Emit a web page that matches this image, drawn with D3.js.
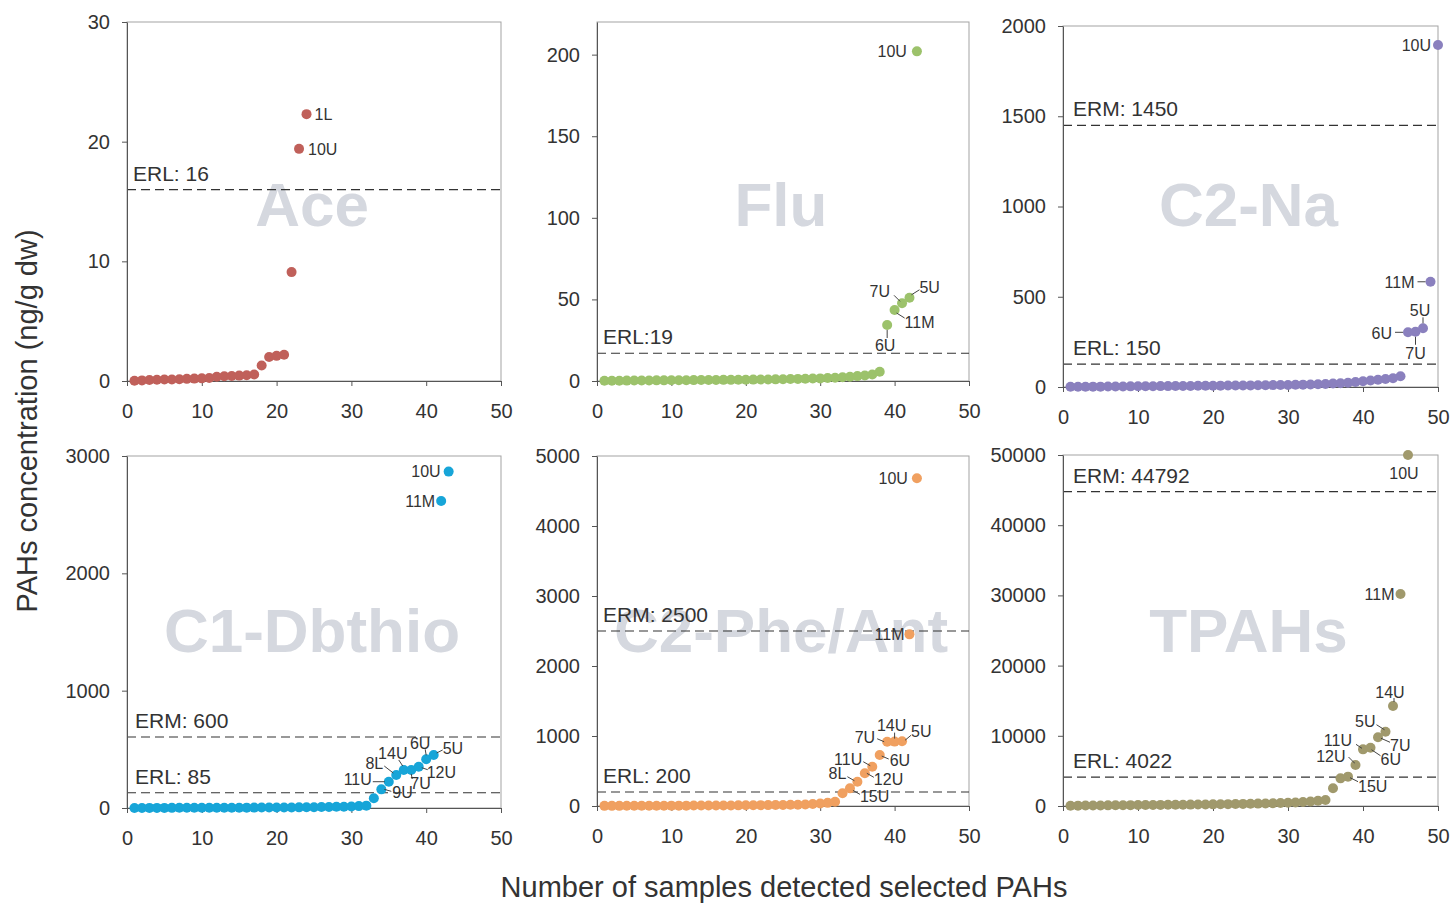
<!DOCTYPE html>
<html lang="en">
<head>
<meta charset="UTF-8">
<title>PAHs concentration</title>
<script src="https://d3js.org/d3.v7.min.js"></script>
<style>
  body { margin: 0; background: #fff; }
  text { font-family: "Liberation Sans", Arial, sans-serif; }
</style>
</head>
<body>
<div id="chart"></div>
<script>
// ---- data ----
const panelNames = ["Ace", "Flu", "C2-Na", "C1-Dbthio", "C2-Phe/Ant", "TPAHs"]
const xTicks = [0, 10, 20, 30, 40, 50]
const yMaxes = [30, 220, 2000, 3000, 5000, 50000]
const yTickValues = [
    [0, 10, 20, 30],
    [0, 50, 100, 150, 200],
    [0, 500, 1000, 1500, 2000],
    [0, 1000, 2000, 3000],
    [0, 1000, 2000, 3000, 4000, 5000],
    [0, 10000, 20000, 30000, 40000, 50000]
]

// concentrations, sorted, sample n = index + 1
const aceValues = [0.02, 0.05, 0.08, 0.1, 0.12, 0.13, 0.15, 0.18, 0.2, 0.22, 0.25, 0.35, 0.4, 0.42, 0.45, 0.48,
    0.55, 1.3, 2.0, 2.1, 2.2, 9.1, 19.4, 22.3]
const fluValues = [0.1, 0.15, 0.2, 0.25, 0.3, 0.3, 0.35, 0.4, 0.4, 0.45, 0.5, 0.5, 0.55, 0.6, 0.6, 0.65, 0.7, 0.7,
    0.75, 0.8, 0.85, 0.9, 0.95, 1.0, 1.1, 1.2, 1.3, 1.4, 1.5, 1.6, 1.8, 2.0, 2.3, 2.6, 3.0, 3.4, 4.0, 5.7,
    34.3, 43.5, 47.6, 51, 202]
const c2naValues = [1, 1, 1.5, 2, 2, 2.5, 3, 3, 3.5, 4, 4, 4.5, 5, 5, 5.5, 6, 6, 6.5, 7, 7,
    7.5, 8, 8, 8.5, 9, 9.5, 10, 10.5, 11, 11.5, 12, 13, 14, 15, 17, 19, 21, 24,
    28, 32, 36, 40, 44, 48, 60, 303, 306, 325, 583, 1895]
const c1dbValues = [0.5, 0.5, 0.8, 1, 1, 1.2, 1.5, 1.5, 1.8, 2, 2, 2.2, 2.5, 2.5, 2.8, 3, 3.2, 3.5, 3.8, 4,
    4.5, 5, 5.5, 6, 7, 8, 9, 10, 11, 13, 16, 20,
    83, 159, 224, 281, 324, 324, 352, 415, 452, 2617, 2867]
const c2pheValues = [2, 2, 2, 3, 3, 3, 4, 4, 4, 5, 5, 5, 6, 6, 7, 7, 8, 8, 9, 10, 11, 12, 13, 14, 15, 17, 19, 22,
    28, 35, 45, 61, 181, 252, 347, 467, 561, 728, 918, 920, 925, 2452, 4681]
const tpahValues = [40, 50, 60, 70, 80, 90, 100, 110, 120, 130, 140, 150, 160, 170, 180, 190, 200, 210, 220, 235,
    250, 265, 280, 300, 320, 340, 360, 390, 420, 460, 500, 560, 640, 740, 855,
    2520, 3940, 4180, 5840, 8070, 8300, 9790, 10580, 14240, 30200, 50000]
const allValues = [aceValues, fluValues, c2naValues, c1dbValues, c2pheValues, tpahValues]

// guideline captions and the level at which each dashed line is drawn
const guideTexts = [["ERL: 16"], ["ERL:19"], ["ERM: 1450", "ERL: 150"], ["ERM: 600", "ERL: 85"],
    ["ERM: 2500", "ERL: 200"], ["ERM: 44792", "ERL: 4022"]]
const guideLevels = [[16], [17], [1450, 127], [605, 130], [2500, 200], [44792, 4100]]

// [sample number, station]
const aceLabels = [[23, "10U"], [24, "1L"]]
const fluLabels = [[39, "6U"], [40, "11M"], [41, "7U"], [42, "5U"], [43, "10U"]]
const c2naLabels = [[46, "6U"], [47, "7U"], [48, "5U"], [49, "11M"], [50, "10U"]]
const c1dbLabels = [[34, "9U"], [35, "11U"], [36, "8L"], [37, "14U"], [38, "7U"], [39, "12U"], [40, "6U"],
    [41, "5U"], [42, "11M"], [43, "10U"]]
const c2pheLabels = [[34, "15U"], [35, "8L"], [36, "12U"], [37, "11U"], [38, "6U"], [39, "7U"], [40, "14U"],
    [41, "5U"], [42, "11M"], [43, "10U"]]
const tpahLabels = [[38, "15U"], [39, "12U"], [40, "11U"], [41, "6U"], [42, "7U"], [43, "5U"], [44, "14U"],
    [45, "11M"], [46, "10U"]]
const allLabels = [aceLabels, fluLabels, c2naLabels, c1dbLabels, c2pheLabels, tpahLabels]

// ---- layout ----
const width = 1454
const height = 903
const boxes = [
    {l: 127, r: 501, t: 22, b: 381},
    {l: 597, r: 969, t: 22, b: 381},
    {l: 1063, r: 1438, t: 26, b: 387},
    {l: 127, r: 501, t: 456, b: 808},
    {l: 597, r: 969, t: 456, b: 806},
    {l: 1063, r: 1438, t: 455, b: 806}
]
const dotColors = ["#c0605a", "#9cc26b", "#8a80be", "#17a5d8", "#f0a060", "#a0996c"]
const guideInset = [6, 6, 10, 8, 6, 10]

// label offsets from the dot: dx, dy, anchor, leader [x1,y1,x2,y2]
const placements = [
    {"10U": [9, 0, "start"], "1L": [8, 0, "start"]},
    {"6U": [-2, 20, "middle", [0, 5, 0, 13]], "11M": [10, 12, "start", [2, 3, 10, 8]],
     "7U": [-12, -12, "end", [-8, -8, -2, -2]], "5U": [10, -11, "start", [2, -3, 10, -8]],
     "10U": [-10, 0, "end"]},
    {"6U": [-16, 1, "end", [-13, 0, -5, 0]], "7U": [0, 21, "middle", [0, 5, 0, 13]],
     "5U": [-3, -18, "middle", [0, -11, 0, -5]], "11M": [-16, 0, "end", [-13, 0, -5, 0]],
     "10U": [-7, 0, "end"]},
    {"9U": [11, 3, "start", [3, 0, 10, 2]], "11U": [-17, -2, "end", [-16, 0, -4, 0]],
     "8L": [-13, -12, "end", [-12, -9, -3, -2]], "14U": [-11, -17, "middle", [-5, -10, -1, -4]],
     "7U": [-1, 13, "start", [1, 9, 0, 4]], "12U": [8, 6, "start", [9, 3, 3, 1]],
     "6U": [-6, -16, "middle", [-1, -10, 0, -4]], "5U": [9, -7, "start", [9, -5, 3, -2]],
     "11M": [-6, 0, "end"], "10U": [-8, 0, "end"]},
    {"15U": [10, 8, "start", [3, 2, 10, 6]], "8L": [-11, -8, "end", [-10, -5, -3, -1]],
     "12U": [9, 6, "start", [2, 0, 9, 4]], "11U": [-10, -7, "end", [-9, -5, -2, -1]],
     "6U": [10, 5, "start", [2, 1, 9, 4]], "7U": [-12, -5, "end", [-10, -3, -3, 0]],
     "14U": [-3, -16, "middle", [0, -9, 0, -3]], "5U": [9, -10, "start", [3, -1, 9, -6]],
     "11M": [-5, 0, "end"], "10U": [-9, 0, "end"]},
    {"15U": [10, 10, "start", [2, 1, 10, 5]], "12U": [-10, -9, "end", [-7, -8, -1, -2]],
     "11U": [-11, -9, "end", [-7, -5, -1, -1]], "6U": [10, 12, "start", [1, 2, 10, 8]],
     "7U": [12, 8, "start", [3, 1, 12, 5]], "5U": [-10, -10, "end", [-9, -7, -1, -2]],
     "14U": [-3, -14, "middle", [1, -8, 1, -4]], "11M": [-6, 0, "end"], "10U": [-4, 18, "middle"]}
]

const svg = d3.select("#chart").append("svg")
    .attr("width", width)
    .attr("height", height)

allValues.forEach((values, p) => {
    const b = boxes[p]
    const x = d3.scaleLinear().domain([0, 50]).range([b.l, b.r])
    const y = d3.scaleLinear().domain([0, yMaxes[p]]).range([b.b, b.t])
    const g = svg.append("g")

    // big grey name behind everything
    g.append("text")
        .attr("x", (b.l + b.r) / 2 - 2)
        .attr("y", p < 3 ? 226 : 652)
        .attr("text-anchor", "middle")
        .style("font-size", "62px")
        .style("font-weight", "bold")
        .style("fill", "#d5d8df")
        .text(panelNames[p])

    g.append("rect")
        .attr("x", b.l).attr("y", b.t)
        .attr("width", b.r - b.l).attr("height", b.b - b.t)
        .attr("fill", "none")
        .attr("stroke", "#a3a3a3")

    guideLevels[p].forEach((lv, k) => {
        g.append("line")
            .attr("x1", b.l).attr("x2", b.r)
            .attr("y1", y(lv)).attr("y2", y(lv))
            .attr("stroke", "#333")
            .attr("stroke-width", 1.2)
            .attr("stroke-dasharray", "9,5")
        g.append("text")
            .attr("x", b.l + guideInset[p])
            .attr("y", y(lv) - 9)
            .style("font-size", "21px")
            .style("fill", "#333")
            .text(guideTexts[p][k])
    })

    const xAxis = d3.axisBottom(x).tickValues(xTicks).tickSize(5).tickSizeOuter(0).tickPadding(18)
    const yAxis = d3.axisLeft(y).tickValues(yTickValues[p]).tickFormat(d3.format("d"))
        .tickSize(5).tickSizeOuter(0).tickPadding(12)

    g.append("g")
        .attr("transform", "translate(0," + b.b + ")")
        .call(xAxis)
    g.append("g")
        .attr("transform", "translate(" + b.l + ",0)")
        .call(yAxis)

    g.selectAll(".tick text").style("font-size", "20px").style("fill", "#333")
        .style("font-family", "'Liberation Sans', Arial, sans-serif")
    g.selectAll(".domain, .tick line").attr("stroke", "#555")

    g.selectAll("circle")
        .data(values)
        .join("circle")
        .attr("cx", (d, i) => x(i + 1))
        .attr("cy", d => y(d))
        .attr("r", 5)
        .style("fill", dotColors[p])

    allLabels[p].forEach(([n, name]) => {
        const cx = x(n)
        const cy = y(values[n - 1])
        const pl = placements[p][name]
        if (pl[3]) {
            g.append("line")
                .attr("x1", cx + pl[3][0]).attr("y1", cy + pl[3][1])
                .attr("x2", cx + pl[3][2]).attr("y2", cy + pl[3][3])
                .attr("stroke", "#444")
                .attr("stroke-width", 1)
        }
        g.append("text")
            .attr("x", cx + pl[0])
            .attr("y", cy + pl[1])
            .attr("dy", "0.36em")
            .attr("text-anchor", pl[2])
            .style("font-size", "16px")
            .style("fill", "#333")
            .text(name)
    })
})

svg.append("text")
    .attr("transform", "translate(37,421) rotate(-90)")
    .attr("text-anchor", "middle")
    .style("font-size", "29px")
    .style("fill", "#333")
    .text("PAHs concentration (ng/g dw)")

svg.append("text")
    .attr("x", 784)
    .attr("y", 897)
    .attr("text-anchor", "middle")
    .style("font-size", "29px")
    .style("fill", "#333")
    .text("Number of samples detected selected PAHs")
</script>
</body>
</html>
